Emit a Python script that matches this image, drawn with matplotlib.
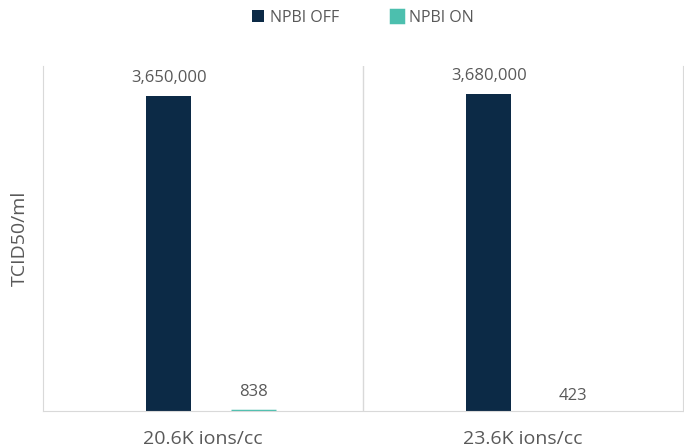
import matplotlib.pyplot as plt
import numpy as np

categories = ['20.6K ions/cc', '23.6K ions/cc']
npbi_off = [3650000, 3680000]
npbi_on = [838, 423]

plt.rcParams['font.family'] = ['Open Sans', 'DejaVu Sans']
grey_text = '#595959'
line_col = '#d9d9d9'

fig = plt.figure(figsize=(6.84, 4.48), dpi=100)
ax = fig.add_axes([43 / 684, 37 / 448, 640 / 684, 345 / 448])

x = np.arange(len(categories))
w = 0.14
b_off = ax.bar(x - 0.107, npbi_off, w, color='#0c2a46', label='NPBI OFF')
b_on = ax.bar(x + 0.157, npbi_on, w, color='#4cbfae', label='NPBI ON')
# tiny value is sub-pixel on a linear axis, give the first one a hairline so it shows
b_on[0].set_edgecolor('#4cbfae')
b_on[0].set_linewidth(2.5)

ax.bar_label(b_off, labels=[f'{v:,}' for v in npbi_off], padding=7,
             fontsize=12, color=grey_text)
ax.bar_label(b_on, labels=[f'{npbi_on[0]:,}', ''], padding=8,
             fontsize=12, color=grey_text)
ax.bar_label(b_on, labels=['', f'{npbi_on[1]:,}'], padding=5,
             fontsize=12, color=grey_text)

ax.set_xlim(-0.5, 1.5)
ax.set_ylim(0, 4000000)
ax.axvline(0.5, color=line_col, lw=1)
for s in ['left', 'right', 'bottom']:
    ax.spines[s].set_color(line_col)
ax.spines['top'].set_visible(False)
ax.set_yticks([])
ax.set_xticks(x)
ax.set_xticklabels(categories, fontsize=14, color=grey_text)
ax.tick_params(axis='x', length=0, pad=14)
ax.set_ylabel('TCID50/ml', fontsize=14, color=grey_text, labelpad=10)

fig.legend(handles=[b_off, b_on], loc='upper center', bbox_to_anchor=(363 / 684, 1.01),
           ncol=2, frameon=False, fontsize=11.5, labelcolor=grey_text,
           handlelength=0.75, handleheight=0.75, columnspacing=3.2, handletextpad=0.4)

fig.savefig('out.png', dpi=100)
